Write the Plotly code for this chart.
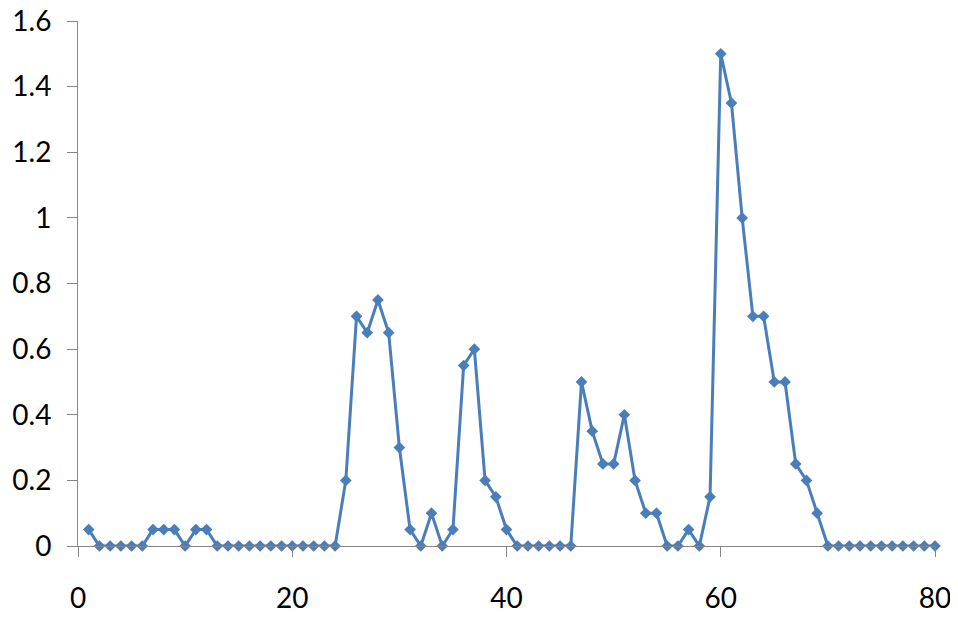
import plotly.graph_objects as go

x_vals = list(range(1, 81))
y_vals = [
    0.05, 0, 0, 0, 0, 0, 0.05, 0.05, 0.05, 0,
    0.05, 0.05, 0, 0, 0, 0, 0, 0, 0, 0,
    0, 0, 0, 0, 0.2, 0.7, 0.65, 0.75, 0.65, 0.3,
    0.05, 0, 0.1, 0, 0.05, 0.55, 0.6, 0.2, 0.15, 0.05,
    0, 0, 0, 0, 0, 0, 0.5, 0.35, 0.25, 0.25,
    0.4, 0.2, 0.1, 0.1, 0, 0, 0.05, 0, 0.15, 1.5,
    1.35, 1.0, 0.7, 0.7, 0.5, 0.5, 0.25, 0.2, 0.1, 0,
    0, 0, 0, 0, 0, 0, 0, 0, 0, 0,
]

fig = go.Figure(go.Scatter(
    x=x_vals, y=y_vals, mode="lines+markers",
    line=dict(color="#4A7EBB", width=3),
    marker=dict(symbol="diamond", size=9, color="#4A7EBB"),
    cliponaxis=False,
))

axis_common = dict(
    showgrid=False, zeroline=False, showline=True, linecolor="#868686", linewidth=1,
    ticks="outside", tickcolor="#868686", ticklen=10, tickwidth=1, automargin=False,
    ticklabeloverflow="allow",
    tickfont=dict(family="Lato, Open Sans, sans-serif", size=28, color="#000000"),
)
fig.update_xaxes(range=[0, 80], dtick=20, tick0=0, ticklabelstandoff=17, **axis_common)
fig.update_yaxes(range=[0, 1.6], dtick=0.2, tick0=0, ticklabelstandoff=10, **axis_common)

fig.update_layout(
    width=950, height=618,
    margin=dict(l=70, r=23, t=13, b=80, autoexpand=False),
    plot_bgcolor="white", paper_bgcolor="white",
    showlegend=False,
)
fig.write_html("out.html")
